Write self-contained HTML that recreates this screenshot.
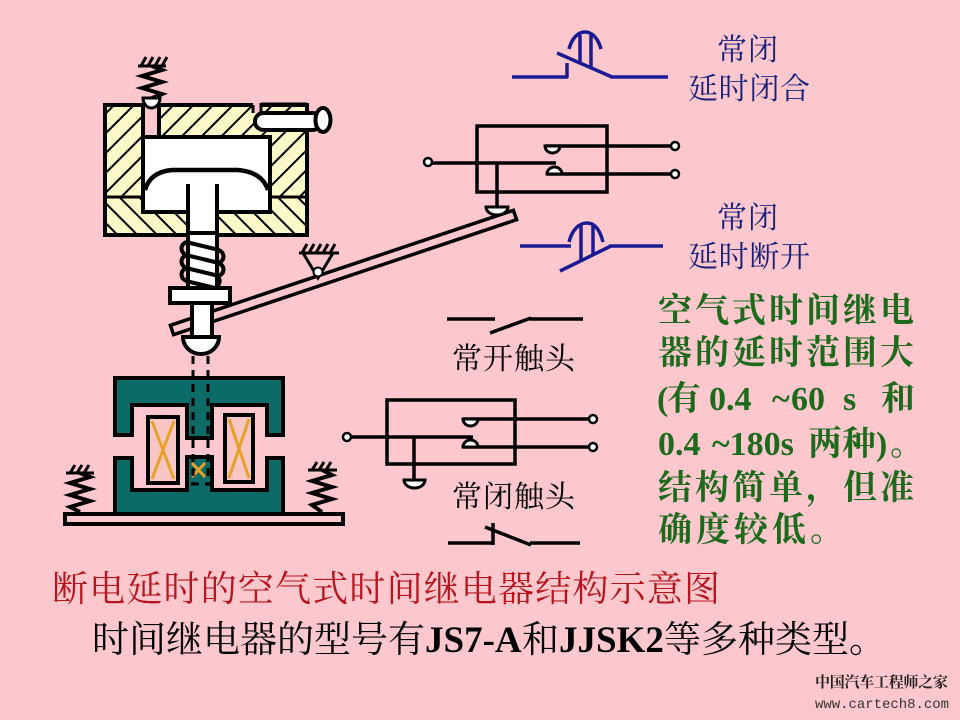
<!DOCTYPE html>
<html><head><meta charset="utf-8">
<style>
html,body{margin:0;padding:0;background:#FDC8CD;}
svg{display:block;}
</style></head>
<body>
<svg width="960" height="720" viewBox="0 0 960 720" xmlns="http://www.w3.org/2000/svg">
<defs>
<pattern id="hu" width="14" height="14" patternUnits="userSpaceOnUse" patternTransform="rotate(45)">
<rect width="14" height="14" fill="#FCF9C8"/><line x1="0" y1="0" x2="0" y2="14" stroke="#000" stroke-width="4"/>
</pattern>
<pattern id="hl" width="14" height="14" patternUnits="userSpaceOnUse" patternTransform="rotate(-45)">
<rect width="14" height="14" fill="#FCF9C8"/><line x1="0" y1="0" x2="0" y2="14" stroke="#000" stroke-width="4"/>
</pattern>
</defs>
<rect width="960" height="720" fill="#FDC8CD"/>

<!-- top spring -->
<line x1="138" y1="66" x2="166" y2="66" stroke="#000" stroke-width="3"/>
<path d="M141,66 l5,-9 M148,66 l5,-9 M155,66 l5,-9 M162,66 l5,-9" stroke="#000" stroke-width="3"/>
<polyline points="152,66 162,70 142,76 162,82 142,88 162,94 152,98" fill="none" stroke="#000" stroke-width="4"/>

<!-- housing -->
<rect x="105" y="105" width="202" height="92" fill="url(#hu)"/>
<rect x="105" y="197" width="202" height="38" fill="url(#hl)"/>
<rect x="105" y="105" width="202" height="130" fill="none" stroke="#000" stroke-width="4"/>
<rect x="253" y="98" width="8" height="15" fill="#FDC8CD"/>
<line x1="253" y1="105" x2="253" y2="113" stroke="#000" stroke-width="3"/>
<line x1="261" y1="103" x2="261" y2="113" stroke="#000" stroke-width="3"/>
<line x1="261" y1="104" x2="307" y2="104" stroke="#000" stroke-width="3"/>
<line x1="105" y1="197" x2="307" y2="197" stroke="#000" stroke-width="3"/>
<rect x="144" y="103" width="15" height="36" fill="#FDC8CD"/>
<line x1="143" y1="105" x2="143" y2="139" stroke="#000" stroke-width="4"/>
<line x1="159" y1="105" x2="159" y2="139" stroke="#000" stroke-width="4"/>
<path d="M143,137 H270 V212 H217 V235 H188 V212 H143 Z" fill="#fff" stroke="#000" stroke-width="4"/>
<path d="M145,190 Q150,172 172,170 L238,170 Q262,172 268,190" fill="none" stroke="#000" stroke-width="4.5"/>
<line x1="188" y1="184" x2="188" y2="212" stroke="#000" stroke-width="4"/>
<line x1="217" y1="184" x2="217" y2="212" stroke="#000" stroke-width="4"/>
<path d="M143,98 A8.5,10 0 0 0 160,98 Z" fill="#fff" stroke="#000" stroke-width="3"/>
<rect x="255" y="113" width="66" height="17" rx="8.5" fill="#fff" stroke="#000" stroke-width="4"/>
<ellipse cx="323" cy="120" rx="7.5" ry="12" fill="#fff" stroke="#000" stroke-width="4"/>

<!-- lever -->
<polygon points="170.4,325.3 513.4,210.3 516.6,219.7 173.6,334.7" fill="#FDC8CD" stroke="#000" stroke-width="3.5"/>
<line x1="299" y1="253" x2="339" y2="253" stroke="#000" stroke-width="3"/>
<path d="M302,253 l5,-9 M309,253 l5,-9 M316,253 l5,-9 M323,253 l5,-9 M330,253 l5,-9" stroke="#000" stroke-width="3"/>
<polygon points="303,253 333,253 318,278" fill="#FDC8CD" stroke="#000" stroke-width="3"/>
<circle cx="318" cy="272" r="4.5" fill="#fff" stroke="#000" stroke-width="2"/>

<!-- stem -->
<rect x="188" y="233" width="29" height="57" fill="#fff" stroke="#000" stroke-width="4"/>
<g stroke="#000" stroke-width="4" fill="none">
<path d="M186,242 L219,250"/><path d="M186,255 L219,263"/><path d="M186,268 L219,276"/><path d="M186,281 L219,289"/>
<path d="M188,242 a6,6 0 0 0 0,13"/><path d="M188,255 a6,6 0 0 0 0,13"/><path d="M188,268 a6,6 0 0 0 0,13"/>
<path d="M217,250 a6,6 0 0 1 0,13"/><path d="M217,263 a6,6 0 0 1 0,13"/><path d="M217,276 a6,6 0 0 1 0,10"/>
</g>
<rect x="170" y="288" width="60" height="15" fill="#fff" stroke="#000" stroke-width="4"/>
<rect x="192" y="303" width="20" height="36" fill="#fff" stroke="#000" stroke-width="4"/>
<path d="M183,337 A18,17 0 0 0 219,337 Z" fill="#fff" stroke="#000" stroke-width="4"/>

<!-- E core -->
<polygon points="115,378 283,378 283,435 267,435 267,405 212,405 212,438 187,438 187,405 132,405 132,435 115,435" fill="#0C6A67" stroke="#000" stroke-width="4"/>
<polygon points="115,458 132,458 132,490 187,490 187,457 212,457 212,490 267,490 267,458 283,458 283,514 115,514" fill="#0C6A67" stroke="#000" stroke-width="4"/>
<rect x="148" y="417" width="30" height="66" fill="#F8C6C4" stroke="#000" stroke-width="4"/>
<rect x="225" y="415" width="28" height="67" fill="#F8C6C4" stroke="#000" stroke-width="4"/>
<g stroke="#E8A028" stroke-width="3">
<line x1="152" y1="421" x2="174" y2="479"/><line x1="174" y1="421" x2="152" y2="479"/>
<line x1="229" y1="419" x2="249" y2="478"/><line x1="249" y1="419" x2="229" y2="478"/>
<line x1="192" y1="463" x2="205" y2="477"/><line x1="205" y1="463" x2="192" y2="477"/>
</g>
<g stroke="#000" stroke-width="3" stroke-dasharray="8,6" fill="none">
<line x1="193" y1="356" x2="193" y2="484"/>
<line x1="208" y1="356" x2="208" y2="484"/>
<line x1="191" y1="484" x2="210" y2="484"/>
</g>

<!-- base -->
<rect x="65" y="514" width="278" height="10" fill="#FDC8CD" stroke="#000" stroke-width="4"/>
<line x1="66" y1="473" x2="94" y2="473" stroke="#000" stroke-width="3"/>
<path d="M70,473 l5,-8 M77,473 l5,-8 M84,473 l5,-8" stroke="#000" stroke-width="3"/>
<polyline points="80,473 90,477 70,483 90,489 70,495 90,501 70,507 80,512" fill="none" stroke="#000" stroke-width="4"/>
<line x1="308" y1="470" x2="337" y2="470" stroke="#000" stroke-width="3"/>
<path d="M312,470 l5,-8 M319,470 l5,-8 M326,470 l5,-8" stroke="#000" stroke-width="3"/>
<polyline points="322,470 332,475 312,481 332,487 312,493 332,499 312,505 322,512" fill="none" stroke="#000" stroke-width="4"/>

<!-- Box 1 -->
<g stroke="#000" stroke-width="3.5" fill="none">
<rect x="477" y="126" width="130" height="66"/>
<line x1="432" y1="163" x2="556" y2="163"/>
<line x1="545" y1="146" x2="671" y2="146"/>
<line x1="547" y1="174" x2="671" y2="174"/>
<line x1="497" y1="163" x2="497" y2="208"/>
</g>
<path d="M545,146 A7.5,7 0 0 0 560,146 Z" fill="#fff" stroke="#000" stroke-width="3"/>
<path d="M547,174 A7.5,7 0 0 1 562,174 Z" fill="#fff" stroke="#000" stroke-width="3"/>
<path d="M486,207 A11,8 0 0 0 508,207 Z" fill="#fff" stroke="#000" stroke-width="3"/>
<g fill="#fff" stroke="#000" stroke-width="2.5">
<circle cx="428" cy="162" r="4"/><circle cx="675" cy="146" r="4"/><circle cx="675" cy="174" r="4"/>
</g>

<!-- Box 2 -->
<g stroke="#000" stroke-width="3.5" fill="none">
<rect x="387" y="400" width="128" height="64"/>
<line x1="351" y1="437" x2="473" y2="437"/>
<line x1="463" y1="419" x2="589" y2="419"/>
<line x1="463" y1="447" x2="589" y2="447"/>
<line x1="414" y1="437" x2="414" y2="481"/>
</g>
<path d="M463,419 A7.5,7 0 0 0 478,419 Z" fill="#fff" stroke="#000" stroke-width="3"/>
<path d="M463,447 A7.5,7 0 0 1 478,447 Z" fill="#fff" stroke="#000" stroke-width="3"/>
<path d="M404,480 A10.5,8 0 0 0 425,480 Z" fill="#fff" stroke="#000" stroke-width="3"/>
<g fill="#fff" stroke="#000" stroke-width="2.5">
<circle cx="347" cy="437" r="4"/><circle cx="593" cy="419" r="4"/><circle cx="593" cy="447" r="4"/>
</g>

<!-- NO contact symbol -->
<g stroke="#000" stroke-width="3.5" fill="none">
<line x1="447" y1="319" x2="495" y2="319"/>
<line x1="490" y1="333" x2="531" y2="318"/>
<line x1="530" y1="319" x2="583" y2="319"/>
</g>
<!-- NC contact symbol -->
<g stroke="#000" stroke-width="3.5" fill="none">
<line x1="448" y1="543" x2="494" y2="543"/>
<line x1="493" y1="545" x2="493" y2="523"/>
<line x1="485" y1="527" x2="531" y2="545"/>
<line x1="530" y1="543" x2="580" y2="543"/>
</g>

<!-- delay symbol 1 -->
<g stroke="#1A1A92" stroke-width="3.5" fill="none">
<line x1="512" y1="77" x2="568" y2="77"/>
<line x1="567" y1="78" x2="567" y2="63"/>
<line x1="557" y1="53" x2="612" y2="77"/>
<line x1="611" y1="77" x2="668" y2="77"/>
<path d="M569,49 C572,38 578,32 585,32 C592,32 598,38 601,49"/>
<line x1="580" y1="35" x2="580" y2="63"/>
<line x1="591" y1="35" x2="591" y2="68"/>
</g>
<!-- delay symbol 2 -->
<g stroke="#1A1A92" stroke-width="3.5" fill="none">
<line x1="520" y1="246" x2="571" y2="246"/>
<line x1="560" y1="271" x2="611" y2="246"/>
<line x1="609" y1="246" x2="663" y2="246"/>
<path d="M569,242 C572,230 579,223 587,223 C595,223 600,230 603,242"/>
<line x1="581" y1="226" x2="581" y2="260"/>
<line x1="593" y1="226" x2="593" y2="255"/>
</g>

<!-- labels -->
<g font-family="'Liberation Serif','Noto Serif CJK SC',serif" font-size="30" fill="#16207A">
<text x="717" y="60" textLength="61" lengthAdjust="spacing">常闭</text>
<text x="688" y="99" textLength="122" lengthAdjust="spacing">延时闭合</text>
<text x="717" y="228" textLength="61" lengthAdjust="spacing">常闭</text>
<text x="688" y="267" textLength="122" lengthAdjust="spacing">延时断开</text>
</g>
<g font-family="'Liberation Serif','Noto Serif CJK SC',serif" font-size="30" fill="#000">
<text x="452" y="369" textLength="123" lengthAdjust="spacing">常开触头</text>
<text x="452" y="507" textLength="123" lengthAdjust="spacing">常闭触头</text>
</g>

<!-- green block -->
<g font-family="'Liberation Serif','Noto Serif CJK SC',serif" font-size="34" fill="#1C6B1C" font-weight="bold">
<text x="658 695 732 769 806 843 880" y="322">空气式时间继电</text>
<text x="658 695 732 769 806 843 880" y="364">器的延时范围大</text>
<text y="410"><tspan x="657">(</tspan><tspan x="667">有</tspan><tspan x="709">0.4</tspan><tspan x="772">~</tspan><tspan x="791">60</tspan><tspan x="843">s</tspan><tspan x="881">和</tspan></text>
<text y="455"><tspan x="658">0.4</tspan><tspan x="712">~180s</tspan><tspan x="808">两种</tspan><tspan x="876">)</tspan><tspan x="890">。</tspan></text>
<text x="658 695 732 769 806 843 880" y="499">结构简单，但准</text>
<text x="658 696 734 772 810" y="541">确度较低。</text>
</g>

<!-- bottom texts -->
<text x="52" y="601" font-family="'Liberation Serif','Noto Serif CJK SC',serif" font-size="36" fill="#B5161E" textLength="668" lengthAdjust="spacing">断电延时的空气式时间继电器结构示意图</text>
<text y="652" font-family="'Liberation Serif','Noto Serif CJK SC',serif" font-size="37" fill="#000"><tspan x="92">时间继电器的型号有</tspan><tspan x="425" font-weight="bold">JS7-A</tspan><tspan x="522">和</tspan><tspan x="559" font-weight="bold">JJSK2</tspan><tspan x="664">等多种类型。</tspan></text>

<!-- watermark -->
<text x="815" y="687" font-family="'Noto Serif CJK SC',serif" font-size="15" font-weight="bold" fill="#222" textLength="133" lengthAdjust="spacing">中国汽车工程师之家</text>
<text x="815" y="708" font-family="'Liberation Mono',monospace" font-size="14" fill="#333" textLength="134" lengthAdjust="spacing">www.cartech8.com</text>
</svg>
</body></html>
